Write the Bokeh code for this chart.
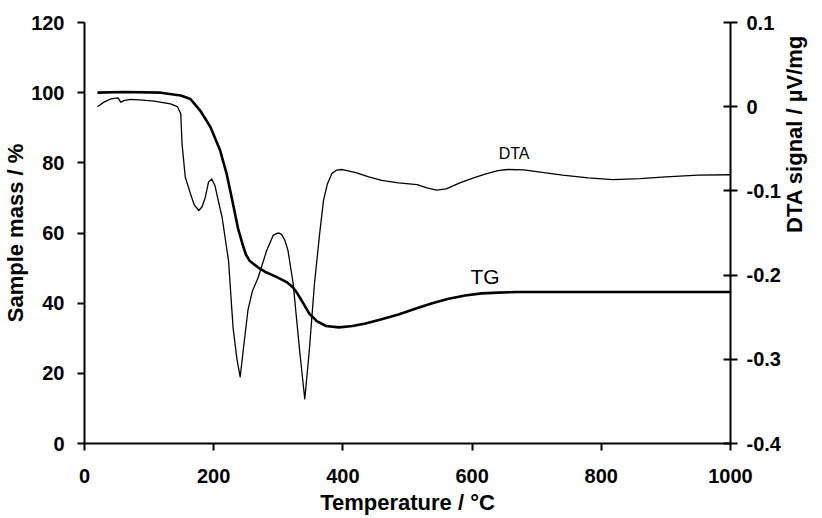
import math
from bokeh.plotting import figure
from bokeh.models import (Range1d, LinearAxis, FixedTicker, CustomJSTickFormatter, Label)
from bokeh.embed import file_html
from bokeh.resources import INLINE

# ---- data ----
# TG: sample mass (%) vs temperature (°C), left axis
tg_temp = [20, 60, 118, 149, 164, 179, 195, 210, 220, 228, 238, 246, 250, 256, 268, 281,
           297, 313, 322, 328, 334, 340, 348, 360, 374, 394, 415, 435, 460, 486, 512,
           537, 562, 589, 615, 640, 670, 700, 800, 900, 1000]
tg_mass = [100.0, 100.2, 100.0, 99.2, 98.2, 94.9, 90.2, 83.5, 76.9, 70.0, 61.0, 56.0,
           53.8, 52.0, 50.3, 48.8, 47.5, 46.0, 44.6, 43.2, 41.4, 39.5, 37.0, 34.8, 33.5,
           33.1, 33.5, 34.2, 35.4, 36.8, 38.4, 39.9, 41.2, 42.2, 42.8, 43.0, 43.2, 43.2,
           43.2, 43.2, 43.2]

# DTA signal (µV/mg) vs temperature (°C), right axis
dta_temp = [20, 30, 41, 52, 56, 62, 72, 90, 108, 133, 144, 149, 151, 156, 164, 170, 177,
            182, 187, 192, 197, 202, 207, 213, 223, 230, 236, 241, 246, 253, 260, 269,
            282, 292, 297, 301, 305, 310, 315, 323, 333, 341, 348, 356, 364, 370, 376,
            383, 390, 399, 420, 440, 460, 486, 515, 530, 545, 560, 580, 600, 620, 640,
            655, 680, 700, 740, 780, 818, 860, 900, 950, 1000]
dta_signal = [0.0000, 0.0054, 0.0092, 0.0104, 0.0054, 0.0075, 0.0088, 0.0079, 0.0067,
              0.0033, 0.0000, -0.0083, -0.0442, -0.0838, -0.1033, -0.1167, -0.1233,
              -0.1188, -0.1075, -0.0896, -0.0858, -0.0938, -0.1113, -0.1313, -0.1833,
              -0.2625, -0.3000, -0.3208, -0.2875, -0.2417, -0.2188, -0.2025, -0.1708,
              -0.1529, -0.1508, -0.1500, -0.1517, -0.1583, -0.1708, -0.2100, -0.2896,
              -0.3471, -0.2896, -0.2100, -0.1508, -0.1113, -0.0917, -0.0792, -0.0754,
              -0.0746, -0.0783, -0.0833, -0.0875, -0.0904, -0.0925, -0.0963, -0.0992,
              -0.0975, -0.0908, -0.0850, -0.0800, -0.0758, -0.0746, -0.0750, -0.0771,
              -0.0813, -0.0846, -0.0867, -0.0854, -0.0833, -0.0813, -0.0808]

mass_ticks = [0, 20, 40, 60, 80, 100, 120]
temp_ticks = [0, 200, 400, 600, 800, 1000]
dta_ticks = [-0.4, -0.3, -0.2, -0.1, 0.0, 0.1]

FONT = "Liberation Sans"

p = figure(width=822, height=518, output_backend="svg", toolbar_location=None,
           x_range=Range1d(0, 1000), y_range=Range1d(0, 120),
           min_border_left=83, min_border_right=87, min_border_top=22,
           min_border_bottom=75)
p.extra_y_ranges = {"dta": Range1d(-0.4, 0.1)}
p.outline_line_color = None
p.xgrid.visible = False
p.ygrid.visible = False
p.background_fill_color = "white"
p.border_fill_color = "white"


def style(ax, tin, tout, lstand, tstand):
    ax.major_tick_in = tin
    ax.major_tick_out = tout
    ax.minor_tick_line_color = None
    ax.major_tick_line_width = 2
    ax.axis_line_width = 2
    ax.axis_line_color = "black"
    ax.major_tick_line_color = "black"
    ax.major_label_text_font = FONT
    ax.major_label_text_font_style = "bold"
    ax.major_label_text_font_size = "20px"
    ax.major_label_text_color = "black"
    ax.major_label_standoff = lstand
    ax.axis_label_text_font = FONT
    ax.axis_label_text_font_style = "bold"
    ax.axis_label_text_font_size = "22px"
    ax.axis_label_text_color = "black"
    ax.axis_label_standoff = tstand


xa = p.xaxis[0]
xa.ticker = FixedTicker(ticks=temp_ticks)
xa.axis_label = "Temperature / °C"
style(xa, 0, 7, 18, 4)

ya = p.yaxis[0]
ya.ticker = FixedTicker(ticks=mass_ticks)
ya.axis_label = "Sample mass / %"
style(ya, 0, 7, 13, 0)

ra = LinearAxis(y_range_name="dta", ticker=FixedTicker(ticks=dta_ticks),
                axis_label="DTA signal / µV/mg")
ra.formatter = CustomJSTickFormatter(code="""
    if (Math.abs(tick) < 1e-9) { return "0"; }
    return tick.toFixed(1);
""")
style(ra, 7, 7, 9, 11)
try:
    ra.axis_label_orientation = math.pi / 2
except Exception:
    pass
p.add_layout(ra, "right")

p.line(dta_temp, dta_signal, y_range_name="dta", line_color="black", line_width=1.3,
       line_join="round")
p.line(tg_temp, tg_mass, line_color="black", line_width=2.6, line_join="round")

p.add_layout(Label(x=665, y=82.6, text="DTA", text_align="center",
                   text_baseline="alphabetic", text_font=FONT,
                   text_font_size="16px", text_color="black"))
p.add_layout(Label(x=620, y=47.6, text="TG", text_align="center",
                   text_baseline="alphabetic", text_font=FONT,
                   text_font_size="21px", text_color="black"))

open("out.html", "w").write(file_html(p, INLINE))
